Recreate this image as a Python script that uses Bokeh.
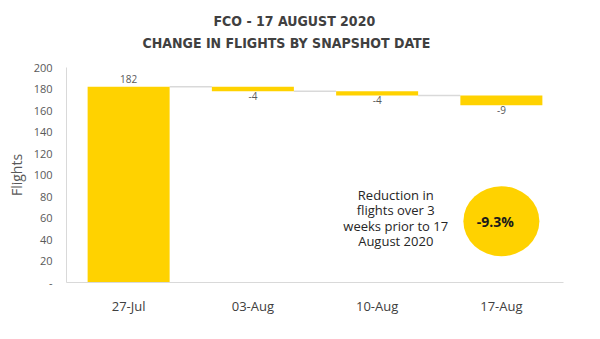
import numpy as np
from bokeh.plotting import figure
from bokeh.models import Range1d, FixedTicker, Title
from bokeh.core.properties import value
from bokeh.embed import file_html
from bokeh.resources import INLINE

# ---- data ----
dates = ["27-Jul", "03-Aug", "10-Aug", "17-Aug"]
changes = [182, -4, -4, -9]
change_labels = ["182", "-4", "-4", "-9"]
y_ticks = [0, 20, 40, 60, 80, 100, 120, 140, 160, 180, 200]
y_tick_labels = ["-", "20", "40", "60", "80", "100", "120", "140", "160", "180", "200"]
title_lines = ["FCO - 17 AUGUST 2020", "CHANGE IN FLIGHTS BY SNAPSHOT DATE"]
note_text = "Reduction in\nflights over 3\nweeks prior to 17\nAugust 2020"
pct_label = "-9.3%"

# ---- derived waterfall geometry ----
xs = [i + 0.5 for i in range(len(dates))]
ends = np.cumsum(changes)
starts = ends - np.array(changes)
bottoms = np.minimum(starts, ends)
tops = np.maximum(starts, ends)
bar_w = 0.66

FONT = "Open Sans"
TITLE_FONT = "DejaVu Sans Condensed"
YELLOW = "#FFD200"

p = figure(width=600, height=339, x_range=Range1d(0, 4), y_range=Range1d(0, 200),
           output_backend="svg", toolbar_location=None,
           min_border_left=66, min_border_right=37, min_border_top=67, min_border_bottom=57)
p.outline_line_color = None
p.xgrid.visible = False
p.ygrid.visible = False
p.background_fill_color = "white"

# axes
p.yaxis.ticker = FixedTicker(ticks=y_ticks)
p.yaxis.major_label_overrides = {t: l for t, l in zip(y_ticks, y_tick_labels)}
p.yaxis.axis_line_color = "#d9d9d9"
p.yaxis.major_tick_line_color = None
p.yaxis.minor_tick_line_color = None
p.yaxis.major_label_standoff = 8
p.yaxis.major_label_text_font = FONT
p.yaxis.major_label_text_font_size = "11px"
p.yaxis.major_label_text_color = "#595959"
p.yaxis.axis_label = "Flights"
p.yaxis.axis_label_text_font = FONT
p.yaxis.axis_label_text_font_size = "14px"
p.yaxis.axis_label_text_font_style = "normal"
p.yaxis.axis_label_text_color = "#595959"
p.yaxis.axis_label_standoff = 5

p.xaxis.ticker = FixedTicker(ticks=xs)
p.xaxis.major_label_overrides = {x: d for x, d in zip(xs, dates)}
p.xaxis.axis_line_color = "#d9d9d9"
p.xaxis.major_tick_line_color = None
p.xaxis.minor_tick_line_color = None
p.xaxis.major_label_standoff = 8
p.xaxis.major_label_text_font = FONT
p.xaxis.major_label_text_font_size = "13px"
p.xaxis.major_label_text_color = "#404040"

# connectors
cx0 = [xs[i] + bar_w / 2 for i in range(len(xs) - 1)]
cx1 = [xs[i + 1] - bar_w / 2 for i in range(len(xs) - 1)]
cy = list(ends[:-1])
p.segment(x0=cx0, y0=cy, x1=cx1, y1=cy, line_color="#d9d9d9", line_width=1.5)

# bars
p.vbar(x=xs, width=bar_w, bottom=bottoms, top=tops, fill_color=YELLOW, line_color=None)

# value labels
pos = [i for i, c in enumerate(changes) if c >= 0]
neg = [i for i, c in enumerate(changes) if c < 0]
p.text(x=[xs[i] for i in pos], y=[tops[i] for i in pos], text=[change_labels[i] for i in pos],
       text_align="center", text_baseline="bottom", y_offset=-4,
       text_font=value(FONT), text_font_size="10px", text_color="#595959")
p.text(x=[xs[i] for i in neg], y=[bottoms[i] for i in neg], text=[change_labels[i] for i in neg],
       text_align="center", text_baseline="top", y_offset=1,
       text_font=value(FONT), text_font_size="10px", text_color="#595959")

# circle callout
p.ellipse(x=[xs[-1]], y=[57], width=76, height=70, width_units="screen", height_units="screen",
          fill_color=YELLOW, line_color=None)
p.text(x=[xs[-1]], y=[57], text=[pct_label], x_offset=-6, text_align="center", text_baseline="middle",
       text_font=value(FONT), text_font_size="14px", text_font_style="bold", text_color="#1a1a1a")

p.text(x=[2.65], y=[60], text=[note_text], text_align="center", text_baseline="middle",
       text_line_height=0.85, text_font=value(FONT), text_font_size="13px", text_color="#262626")

# titles: spacer nearest the plot, then line 2, then line 1
p.add_layout(Title(text=" ", standoff=0, text_font=TITLE_FONT, text_font_size="12px"), "above")
for txt, so, off in zip(reversed(title_lines), [2, 6], [76, 147]):
    p.add_layout(Title(text=txt, align="left", offset=off, standoff=so, text_font=TITLE_FONT,
                       text_font_size="14px", text_font_style="bold", text_color="#404040"),
                 "above")

open("out.html", "w").write(file_html(p, INLINE))
